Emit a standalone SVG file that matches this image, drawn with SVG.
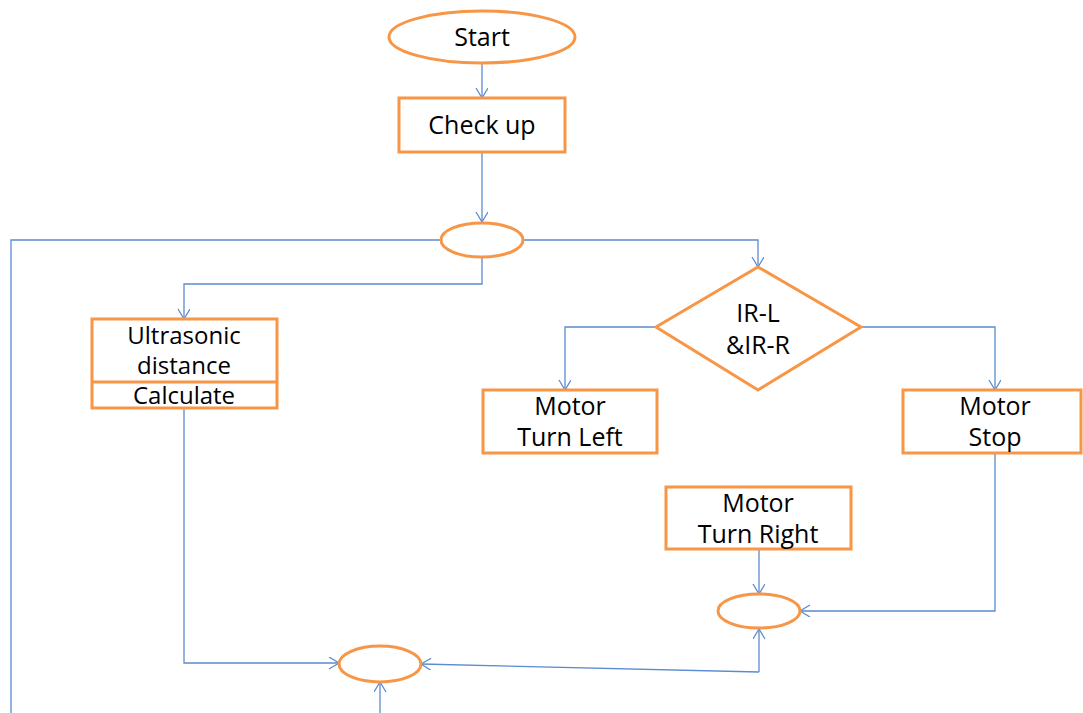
<svg xmlns="http://www.w3.org/2000/svg" width="1083" height="713" viewBox="0 0 1083 713">
<style>
.n{fill:#fff;stroke:#F79646;stroke-width:3}
.c{fill:none;stroke:#5B8BD0;stroke-width:1.3}
.t{font-family:"Open Sans","Noto Sans",sans-serif;font-size:25px;fill:#000;text-anchor:middle}
.s{font-size:24px}
</style>
<defs>
<marker id="a" markerWidth="14" markerHeight="14" refX="11" refY="6" orient="auto" markerUnits="userSpaceOnUse">
<path d="M1,0 L11,6 L1,12" fill="none" stroke="#5B8BD0" stroke-width="1.3"/>
</marker>
</defs>
<rect width="1083" height="713" fill="#fff"/>
<g id="connectors">
<path class="c" d="M482,63 V98" marker-end="url(#a)"/>
<path class="c" d="M482,152 V222" marker-end="url(#a)"/>
<path class="c" d="M441,240 H11 V713"/>
<path class="c" d="M524,240 H758 V267" marker-end="url(#a)"/>
<path class="c" d="M482,258 V284 H184 V319" marker-end="url(#a)"/>
<path class="c" d="M656,327 H565 V390" marker-end="url(#a)"/>
<path class="c" d="M861,327 H995 V390" marker-end="url(#a)"/>
<path class="c" d="M995,453 V611 H800" marker-end="url(#a)"/>
<path class="c" d="M759,549 V594" marker-end="url(#a)"/>
<path class="c" d="M184,408 V663 H339" marker-end="url(#a)"/>
<path class="c" d="M759,672 L421,664" marker-end="url(#a)"/>
<path class="c" d="M759,672 V629" marker-end="url(#a)"/>
<path class="c" d="M380,713 V682" marker-end="url(#a)"/>
</g>
<g id="start"><ellipse class="n" cx="482" cy="37" rx="93" ry="26"/><text class="t" x="482" y="46">Start</text></g>
<g id="checkup"><rect class="n" x="399" y="98" width="166" height="54"/><text class="t" x="482" y="134">Check up</text></g>
<g id="junction1"><ellipse class="n" cx="482" cy="240" rx="41" ry="17"/></g>
<g id="ultrasonic"><rect class="n" x="92" y="319" width="185" height="89"/><line class="n" x1="92" y1="382" x2="277" y2="382"/>
<text class="t s" x="184" y="344">Ultrasonic</text><text class="t s" x="184" y="374">distance</text><text class="t s" x="184" y="404">Calculate</text></g>
<g id="decision"><polygon class="n" points="758,267 861,327 758,390 656,327"/><text class="t" x="758" y="322">IR-L</text><text class="t" x="758" y="354">&amp;IR-R</text></g>
<g id="turnleft"><rect class="n" x="483" y="390" width="174" height="63"/><text class="t" x="570" y="415">Motor</text><text class="t" x="570" y="446">Turn Left</text></g>
<g id="stop"><rect class="n" x="903" y="390" width="178" height="63"/><text class="t" x="995" y="415">Motor</text><text class="t" x="995" y="446">Stop</text></g>
<g id="turnright"><rect class="n" x="666" y="487" width="185" height="62"/><text class="t" x="758" y="512">Motor</text><text class="t" x="758" y="543">Turn Right</text></g>
<g id="junction2"><ellipse class="n" cx="759" cy="611" rx="41" ry="17"/></g>
<g id="junction3"><ellipse class="n" cx="380" cy="664" rx="41" ry="18"/></g>
</svg>
